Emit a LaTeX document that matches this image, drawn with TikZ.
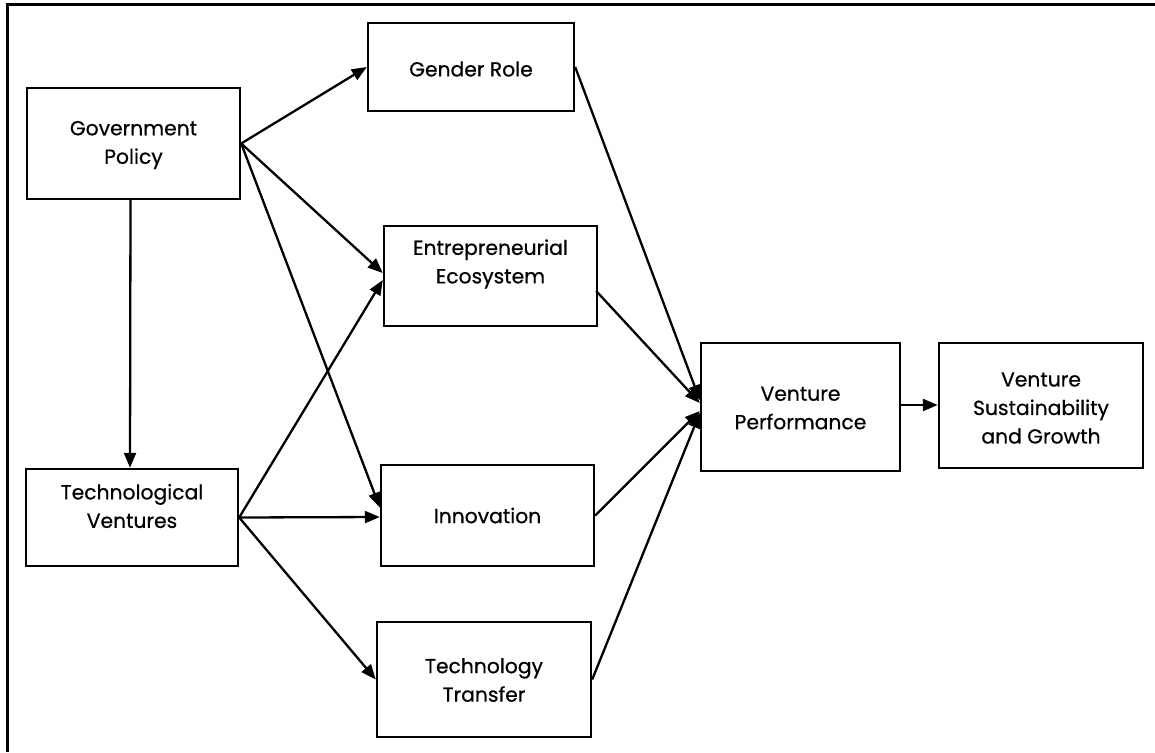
\documentclass[tikz,border=0pt]{standalone}
\usepackage{fontspec}
\setmainfont{Poppins}[FakeBold=0.6]
\usetikzlibrary{arrows.meta,calc}
\begin{document}
\begin{tikzpicture}[x=1pt,y=-1pt,
  box/.style={draw,line width=2.4pt,rectangle,inner sep=0pt},
  txt/.style={align=center,font=\fontsize{20.3}{28.5}\selectfont,inner sep=0pt},
  arr/.style={line width=2.3pt,-{Triangle[length=15pt,width=12pt]}},
  frameline/.style={line width=3pt}]
\useasboundingbox (0,0) rectangle (1155,752);
\coordinate (fa) at (7,752);
\coordinate (fb) at (7,5);
\coordinate (fc) at (1155,5);
\draw[frameline] (fa) -- (fb) -- (fc);
% boxes
\node[box,minimum width=213pt,minimum height=111pt] (gp) at (133.5,143.5) {};
\node[txt] (gpt) at (133.5,145) {Government\\Policy};
\node[box,minimum width=212pt,minimum height=97pt] (tv) at (132,517.5) {};
\node[txt] (tvt) at (132,506) {Technological\\Ventures};
\node[box,minimum width=206pt,minimum height=88pt] (gr) at (471,67) {};
\node[txt] (grt) at (471,69) {Gender Role};
\node[box,minimum width=213pt,minimum height=100pt] (ee) at (490.5,276) {};
\node[txt] (eet) at (490.5,264) {Entrepreneurial\\Ecosystem};
\node[box,minimum width=213pt,minimum height=101pt] (inn) at (487.5,515.5) {};
\node[txt] (innt) at (487.5,515.5) {Innovation};
\node[box,minimum width=214pt,minimum height=115pt] (tt) at (484,679.5) {};
\node[txt] (ttt) at (484,680) {Technology\\Transfer};
\node[box,minimum width=199pt,minimum height=128pt] (vp) at (800.5,407) {};
\node[txt] (vpt) at (800.5,408) {Venture\\Performance};
\node[box,minimum width=204pt,minimum height=125pt] (vsg) at (1041,405.5) {};
\node[txt] (vsgt) at (1041,408) {Venture\\Sustainability\\and Growth};
% arrows
\draw[arr] ([xshift=-3pt]gp.south) -- ([xshift=-2pt]tv.north);
\draw[arr] (gp.east) -- (gr.west);
\draw[arr] (gp.east) -- ([yshift=3pt]ee.west);
\draw[arr] (gp.east) -- ([yshift=8pt]inn.west);
\draw[arr] (tv.east) -- ([yshift=-4pt]ee.west);
\draw[arr] (tv.east) -- ([yshift=-1.5pt]inn.west);
\draw[arr] (tv.east) -- (tt.west);
\draw[arr] (gr.east) -- ([yshift=7pt]vp.west);
\draw[arr] ([yshift=-15pt,xshift=-2pt]ee.east) -- ([yshift=4pt]vp.west);
\draw[arr] (inn.east) -- ([yshift=-4pt]vp.west);
\draw[arr] (tt.east) -- ([yshift=-6pt]vp.west);
\draw[arr] ([yshift=2pt]vp.east) -- ([yshift=0.5pt]vsg.west);
\end{tikzpicture}
\end{document}
